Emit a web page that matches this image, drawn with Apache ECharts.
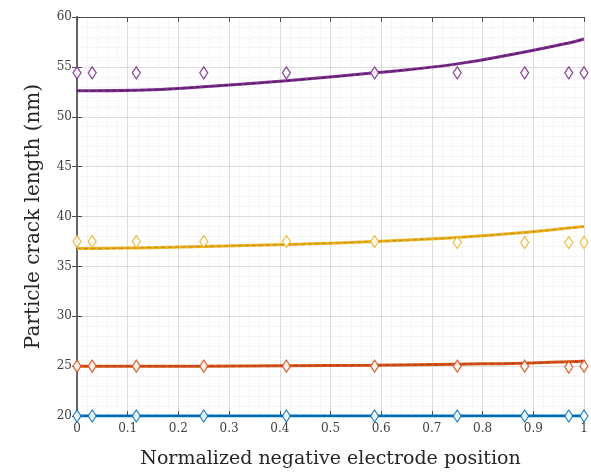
<!DOCTYPE html>
<html>
<head>
<meta charset="utf-8">
<script src="https://cdn.jsdelivr.net/npm/echarts@6/dist/echarts.min.js"></script>
<style>
  html, body { margin: 0; padding: 0; background: #fff; }
  #chart { width: 591px; height: 474px; }
</style>
</head>
<body>
<div id="chart"></div>
<script>
// Normalized positions across the negative electrode
const positions = [0, 0.030, 0.117, 0.250, 0.413, 0.587, 0.750, 0.883, 0.970, 1.000];

// Model curves (nm)
const curveBlue   = [20.0, 20.0, 20.0, 20.0, 20.0, 20.0, 20.0, 20.0, 20.0, 20.0];
const curveRed    = [25.0, 25.0, 25.0, 25.0, 25.05, 25.1, 25.2, 25.3, 25.45, 25.5];
const curveYellow = [36.8, 36.8, 36.85, 37.0, 37.2, 37.5, 37.9, 38.4, 38.85, 39.0];
const curvePurple = [52.6, 52.6, 52.65, 53.0, 53.6, 54.4, 55.3, 56.5, 57.4, 57.8];

// Reference points (nm)
const pointsBlue   = [20.0, 20.0, 20.0, 20.0, 20.0, 20.0, 20.0, 20.0, 20.0, 20.0];
const pointsRed    = [25.0, 25.0, 25.0, 25.0, 25.0, 25.0, 25.0, 25.0, 24.9, 25.0];
const pointsYellow = [37.5, 37.5, 37.5, 37.5, 37.5, 37.5, 37.4, 37.4, 37.4, 37.4];
const pointsPurple = [54.4, 54.4, 54.4, 54.4, 54.4, 54.4, 54.4, 54.4, 54.4, 54.4];

const yTicks = [20, 25, 30, 35, 40, 45, 50, 55, 60];
const xLabel = 'Normalized negative electrode position';
const yLabel = 'Particle crack length (nm)';

const colors = { blue: '#0072BD', red: '#D95319', yellow: '#EDB120', purple: '#7E2F8E' };
const dark   = { blue: '#0b4f86', red: '#9a3a10', yellow: '#b58512', purple: '#3d1046' };

const font = 'DejaVu Serif';
const pair = (ys) => positions.map((x, i) => [x, ys[i]]);

function curveSeries(ys, key) {
  return [
    { type: 'line', data: pair(ys), smooth: true, showSymbol: false, z: 3,
      lineStyle: { color: colors[key], width: 3 } },
    { type: 'line', data: pair(ys), smooth: true, showSymbol: false, z: 4,
      lineStyle: { color: dark[key], width: 1, type: [4, 3], opacity: 0.8 } }
  ];
}
function pointSeries(ys, key) {
  return { type: 'line', data: pair(ys), z: 5,
    lineStyle: { width: 0, opacity: 0 },
    symbol: 'diamond', symbolSize: [8, 12],
    itemStyle: { color: '#fff', borderColor: colors[key], borderWidth: 1.2, opacity: 0.9 } };
}

const axisLine = { show: true, lineStyle: { color: '#4d4d4d', width: 1 } };
const tickIn = { show: true, inside: true, length: 5, lineStyle: { color: '#4d4d4d' } };
const minorOff = { show: false, splitNumber: 5 };
const gridMajor = { show: true, lineStyle: { color: '#dcdcdc', width: 1 } };
const gridMinor = { show: true, lineStyle: { color: '#ececec', width: 1, type: 'dotted' } };

const chart = echarts.init(document.getElementById('chart'), null, { renderer: 'canvas' });
chart.setOption({
  animation: false,
  backgroundColor: '#fff',
  grid: { left: 77, right: 7, top: 17, bottom: 58 },
  xAxis: [
    { type: 'value', min: 0, max: 1, interval: 0.1, position: 'bottom',
      name: xLabel, nameLocation: 'middle', nameGap: 34,
      nameTextStyle: { fontFamily: font, fontSize: 19, color: '#262626' },
      axisLine, axisTick: tickIn, minorTick: minorOff,
      splitLine: gridMajor, minorSplitLine: gridMinor,
      axisLabel: { fontFamily: font, fontSize: 12, color: '#404040', margin: 7 } },
    { type: 'value', min: 0, max: 1, interval: 0.1, position: 'top',
      axisLine, axisTick: tickIn, minorTick: minorOff,
      splitLine: { show: false }, axisLabel: { show: false } }
  ],
  yAxis: [
    { type: 'value', min: yTicks[0], max: yTicks[yTicks.length - 1], interval: 5, position: 'left',
      name: yLabel, nameLocation: 'middle', nameGap: 33,
      nameTextStyle: { fontFamily: font, fontSize: 20, color: '#262626' },
      axisLine, axisTick: tickIn, minorTick: minorOff,
      splitLine: gridMajor, minorSplitLine: gridMinor,
      axisLabel: { fontFamily: font, fontSize: 12, color: '#404040', margin: 5 } },
    { type: 'value', min: yTicks[0], max: yTicks[yTicks.length - 1], interval: 5, position: 'right',
      axisLine: { show: true, lineStyle: { color: '#666', width: 2 } },
      axisTick: tickIn, minorTick: minorOff,
      splitLine: { show: false }, axisLabel: { show: false } }
  ],
  series: [
    ...curveSeries(curveBlue, 'blue'), pointSeries(pointsBlue, 'blue'),
    ...curveSeries(curveRed, 'red'), pointSeries(pointsRed, 'red'),
    ...curveSeries(curveYellow, 'yellow'), pointSeries(pointsYellow, 'yellow'),
    ...curveSeries(curvePurple, 'purple'), pointSeries(pointsPurple, 'purple')
  ]
});
</script>
</body>
</html>
